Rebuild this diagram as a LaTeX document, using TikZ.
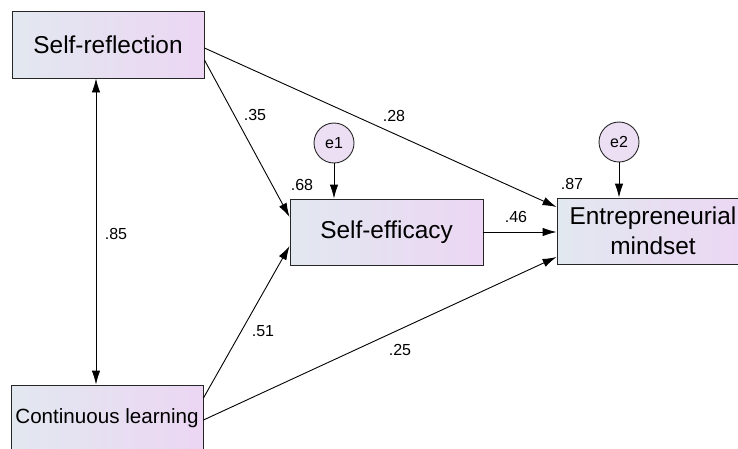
\documentclass[tikz,border=0pt]{standalone}
\usepackage{fontspec}
\setmainfont{Liberation Sans}
\usetikzlibrary{arrows.meta,calc}
\definecolor{boxL}{RGB}{226,232,240}
\definecolor{boxR}{RGB}{236,214,243}
\definecolor{errfill}{RGB}{236,222,243}
\tikzset{
  varbox/.style={draw=black!85, line width=0.9pt, rectangle, left color=boxL, right color=boxR, shading angle=90,
    inner sep=0pt, minimum width=192pt, minimum height=67pt, align=center, font=\fontsize{24.4}{30}\selectfont},
  errc/.style={draw=black!85, line width=0.9pt, circle, fill=errfill, minimum size=40pt, inner sep=0pt,
    font=\fontsize{16}{18}\selectfont},
  arr/.style={line width=0.9pt, -{Latex[length=14pt,width=8.5pt]}},
  darr/.style={line width=0.9pt, {Latex[length=14pt,width=8.5pt]}-{Latex[length=14pt,width=8.5pt]}},
  lbl/.style={font=\fontsize{16}{19}\selectfont, inner sep=0pt}
}
\begin{document}
\begin{tikzpicture}[x=1pt,y=-1pt]
\useasboundingbox (0,0) rectangle (738,448);
\fill[white] (0,0) rectangle (738,448);
\clip (0,0) rectangle (738,448);
\node[varbox] (sr) at (108,44.5) {Self-reflection};
\node[varbox, minimum width=193pt, minimum height=66pt] (se) at (386.5,232) {Self-efficacy};
\node[varbox, minimum height=66pt] (em) at (653,231) {Entrepreneurial\\mindset};
\node[varbox, font=\fontsize{20.6}{25}\selectfont] (cl) at (107,418.5) {\raisebox{-5pt}{Continuous learning}};
\node[errc] (e1) at (334,143) {e1};
\node[errc] (e2) at (619,142) {e2};
\draw[arr] (e1) -- (e1 |- se.north);
\draw[arr] (e2) -- (e2 |- em.north);
\draw[darr] (sr.south -| 96,0) -- (cl.north -| 96,0);
\draw[arr] ([yshift=-15.5pt]sr.east) -- ([yshift=15pt]se.west);
\draw[arr] ([yshift=-3.5pt]sr.east) -- ([yshift=24pt]em.west);
\draw[arr] ([yshift=20.5pt]cl.east) -- ([yshift=-14pt]se.west);
\draw[arr] ([yshift=-1.5pt]cl.east) -- ([yshift=-26pt]em.west);
\draw[arr] (se.east) -- (em.west |- se.east);
\node[lbl] (l35) at (255,115) {.35};
\node[lbl] (l28) at (394,116) {.28};
\node[lbl] (l68) at (302,185) {.68};
\node[lbl] (l87) at (572,184) {.87};
\node[lbl] (l85) at (116,234) {.85};
\node[lbl] (l46) at (516,217) {.46};
\node[lbl] (l51) at (263,331) {.51};
\node[lbl] (l25) at (400,350) {.25};
\end{tikzpicture}
\end{document}
